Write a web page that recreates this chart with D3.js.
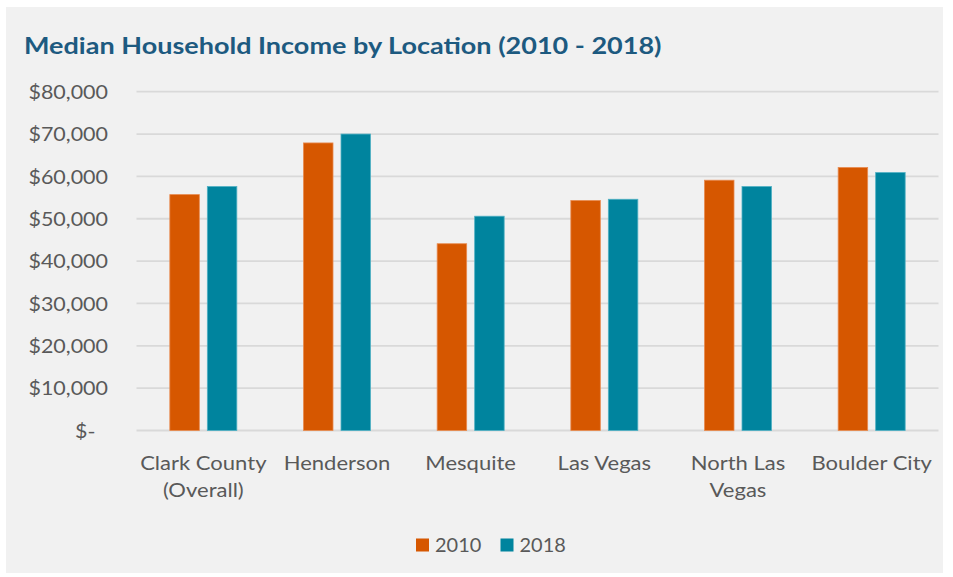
<!DOCTYPE html>
<html>
<head>
<meta charset="utf-8">
<script src="https://cdn.jsdelivr.net/npm/d3@7/dist/d3.min.js"></script>
<style>
  html, body { margin: 0; padding: 0; background: #ffffff; }
  svg { display: block; }
</style>
</head>
<body>
<svg id="chart" width="953" height="577"></svg>
<script>
// Median household income by location, 2010 vs 2018
const locations = ["Clark County (Overall)", "Henderson", "Mesquite", "Las Vegas", "North Las Vegas", "Boulder City"];
const locationLines = [["Clark County", "(Overall)"], ["Henderson"], ["Mesquite"], ["Las Vegas"], ["North Las", "Vegas"], ["Boulder City"]];
const years = ["2010", "2018"];
const income2010 = [55700, 67900, 44100, 54300, 59100, 62100];
const income2018 = [57600, 70000, 50600, 54600, 57600, 60900];
const yTicks = [0, 10000, 20000, 30000, 40000, 50000, 60000, 70000, 80000];

const colors = { "2010": "#d65700", "2018": "#00849e" };
const edge = { "2010": "#e88a4f", "2018": "#4fb0c4" };
const series = { "2010": income2010, "2018": income2018 };

const FONT = "Lato, sans-serif";
const TEXT = "#595959";
const WIDE = 1.13; // horizontal stretch applied to label text

const svg = d3.select("#chart");

// panel background
svg.append("rect").attr("x", 6).attr("y", 7).attr("width", 937).attr("height", 566)
  .attr("fill", "#f1f1f1");

const plot = { left: 136.5, right: 938.5, top: 91.7, bottom: 430.5 };

const x0 = d3.scaleBand().domain(locations).range([plot.left, plot.right]).paddingInner(0).paddingOuter(0);
const y = d3.scaleLinear().domain([0, 80000]).range([plot.bottom, plot.top]);

const barW = 29.5, gap = 8;
const x1 = d3.scaleOrdinal().domain(years).range([-(gap / 2 + barW), gap / 2]);

// gridlines
svg.append("g").selectAll("line").data(yTicks).join("line")
  .attr("x1", plot.left).attr("x2", plot.right)
  .attr("y1", d => y(d)).attr("y2", d => y(d))
  .attr("stroke", "#d9d9d9").attr("stroke-width", 1.8);

// y axis labels
const yAxis = d3.axisLeft(y).tickValues(yTicks).tickSize(0).tickPadding(0)
  .tickFormat(d => d === 0 ? "$-\u2007" : "$" + d3.format(",")(d));
const gy = svg.append("g").attr("transform", "translate(108,0)").call(yAxis);
gy.select(".domain").remove();
gy.selectAll("text")
  .attr("font-family", FONT).attr("font-size", 19)
  .attr("fill", TEXT).attr("dy", "0.35em")
  .attr("transform", `scale(${WIDE},1)`);

// bars
const groups = svg.append("g").selectAll("g").data(locations).join("g")
  .attr("transform", d => `translate(${x0(d) + x0.bandwidth() / 2},0)`);
groups.selectAll("rect")
  .data((d, i) => years.map(yr => ({ yr, v: series[yr][i] })))
  .join("rect")
  .attr("x", d => x1(d.yr))
  .attr("width", barW)
  .attr("y", d => y(d.v))
  .attr("height", d => y(0) - y(d.v))
  .attr("fill", d => colors[d.yr])
  .attr("stroke", d => edge[d.yr]).attr("stroke-width", 0.8);

// x axis labels
const xl = svg.append("g").selectAll("g").data(locations).join("g")
  .attr("transform", d => `translate(${x0(d) + x0.bandwidth() / 2},470) scale(${WIDE},1)`);
xl.append("text")
  .attr("text-anchor", "middle")
  .attr("font-family", FONT).attr("font-size", 19.5)
  .attr("fill", TEXT)
  .each(function (d, i) {
    d3.select(this).selectAll("tspan").data(locationLines[i]).join("tspan")
      .attr("x", 0)
      .attr("dy", (t, j) => j === 0 ? 0 : 27)
      .text(t => t);
  });

// title
svg.append("g").attr("transform", "translate(24,54) scale(1.15,1)")
  .append("text")
  .attr("font-family", FONT).attr("font-weight", 700).attr("font-size", 23.5)
  .attr("fill", "#1d5a80")
  .text("Median Household Income by Location (2010 - 2018)");

// legend
const legend = svg.append("g");
const legendX = { "2010": 416, "2018": 500.5 };
years.forEach(yr => {
  legend.append("rect").attr("x", legendX[yr]).attr("y", 538.5).attr("width", 13).attr("height", 13)
    .attr("fill", colors[yr]);
  legend.append("g").attr("transform", `translate(${legendX[yr] + 19},552) scale(1.05,1)`)
    .append("text")
    .attr("font-family", FONT).attr("font-size", 19).attr("fill", TEXT)
    .text(yr);
});
</script>
</body>
</html>
